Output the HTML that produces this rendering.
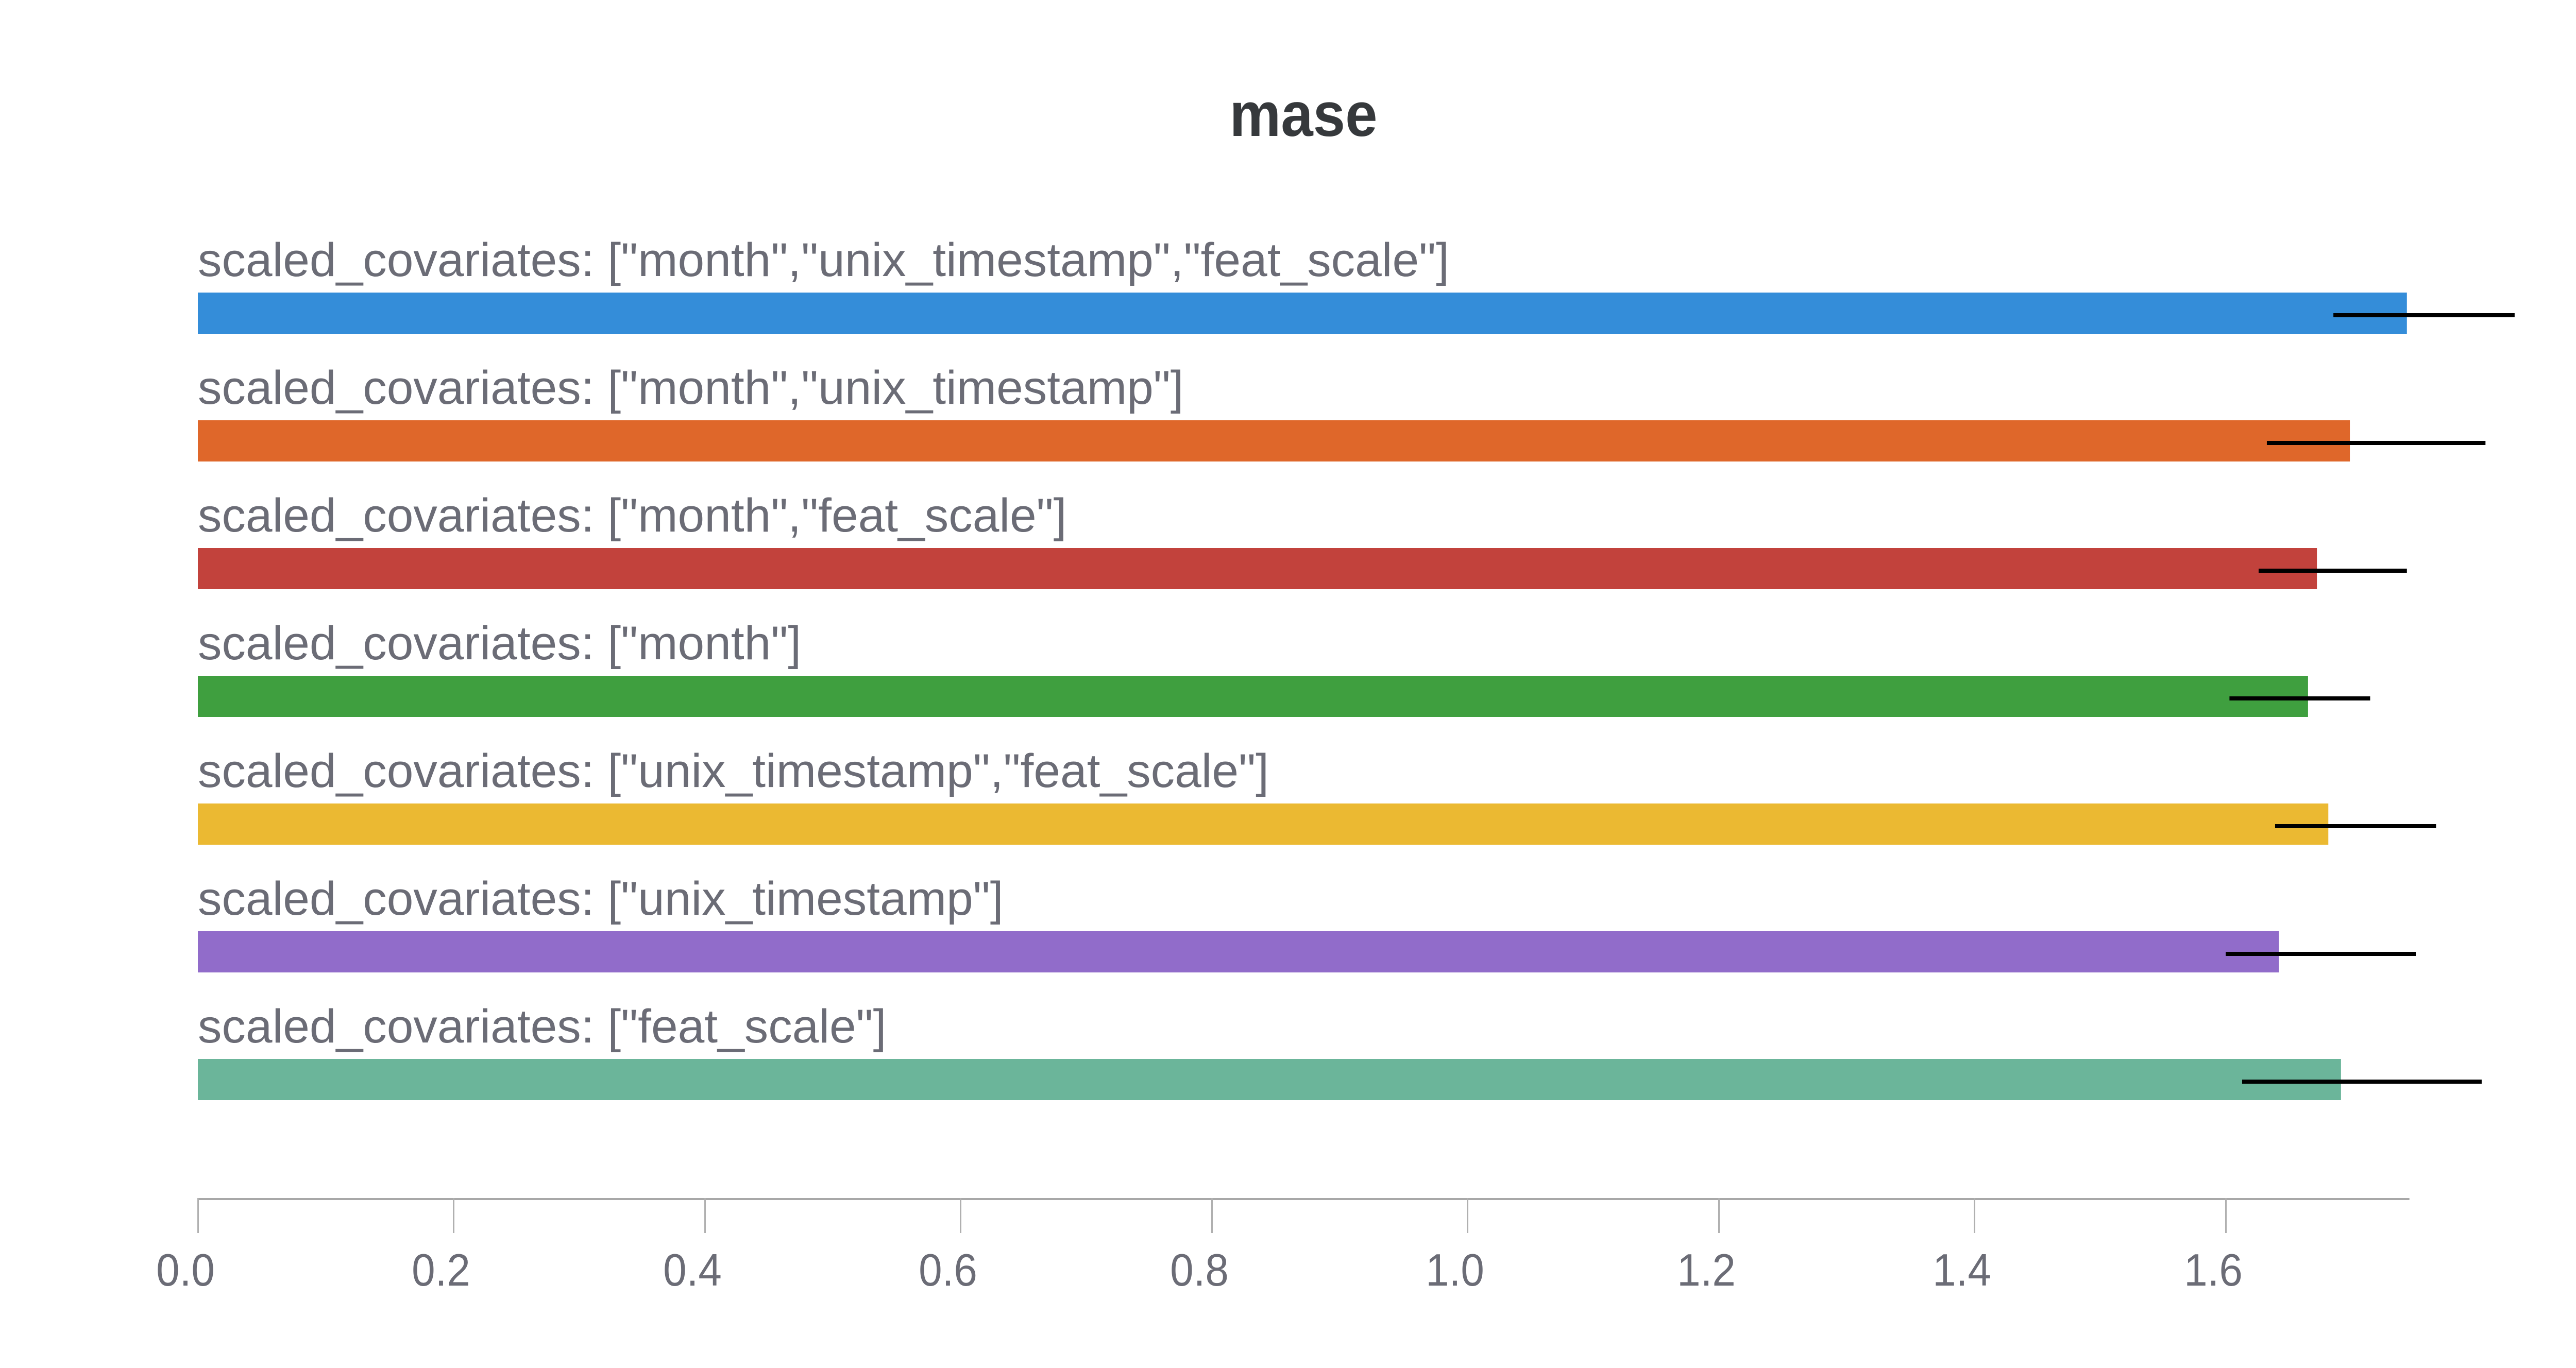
<!DOCTYPE html>
<html lang="en">
<head>
<meta charset="utf-8">
<title>mase</title>
<style>
  html, body { margin: 0; padding: 0; background: #ffffff; }
  body { width: 5056px; height: 2656px; overflow: hidden; }
  svg { display: block; font-family: "Liberation Sans", sans-serif; }
</style>
</head>
<body>
<svg id="chart" xmlns="http://www.w3.org/2000/svg" width="5056" height="2656" viewBox="0 0 5056 2656">
  <rect x="0" y="0" width="5056" height="2656" fill="#ffffff"></rect>
  <text transform="translate(2530,264) scale(0.92,1)" text-anchor="middle" font-size="122" font-weight="700" fill="#36393c">mase</text>
</svg>
<script>
const categories = [
  'scaled_covariates: ["month","unix_timestamp","feat_scale"]',
  'scaled_covariates: ["month","unix_timestamp"]',
  'scaled_covariates: ["month","feat_scale"]',
  'scaled_covariates: ["month"]',
  'scaled_covariates: ["unix_timestamp","feat_scale"]',
  'scaled_covariates: ["unix_timestamp"]',
  'scaled_covariates: ["feat_scale"]'
];
const seriesValues = [1.743, 1.698, 1.672, 1.665, 1.681, 1.642, 1.691];
const errorLow = [1.685, 1.6325, 1.626, 1.603, 1.639, 1.600, 1.613];
const errorHigh = [1.828, 1.805, 1.743, 1.714, 1.766, 1.750, 1.802];
const barColors = ['#348dd9', '#df672a', '#c2423c', '#3f9f3f', '#ebb932', '#916cca', '#6bb59a'];
const tickValues = [0, 0.2, 0.4, 0.6, 0.8, 1.0, 1.2, 1.4, 1.6];
const tickLabels = ['0.0', '0.2', '0.4', '0.6', '0.8', '1.0', '1.2', '1.4', '1.6'];
const domainMax = 1.745;

const svg = document.getElementById('chart');
const NS = 'http://www.w3.org/2000/svg';

function xScale(v) { return 384 + 2460 * v; }
function yScale(i) { return 568 + 248 * i; }
function snap(p) { return Math.round(p / 8) * 8; }

function make(tag, attrs, text) {
  const el = document.createElementNS(NS, tag);
  for (const k in attrs) el.setAttribute(k, attrs[k]);
  if (text !== undefined) el.textContent = text;
  svg.appendChild(el);
  return el;
}

const BAR_H = 80;
const labelScale = 1.01;

categories.forEach(function (name, i) {
  const top = yScale(i);

  const label = make('text', {
    transform: 'translate(384,' + (top - 32) + ') scale(' + labelScale + ',1)',
    'font-size': 92,
    fill: '#6b6c76'
  }, name);
  
  

  const bar = make('rect', {
    x: xScale(0),
    y: top,
    width: xScale(seriesValues[i]) - xScale(0),
    height: BAR_H,
    fill: barColors[i]
  });
  
  
});

categories.forEach(function (name, i) {
  const top = yScale(i);
  const err = make('rect', {
    x: xScale(errorLow[i]),
    y: top + 40,
    width: xScale(errorHigh[i]) - xScale(errorLow[i]),
    height: 8,
    fill: '#000000'
  });
  
  
});

const axisLine = make('rect', {
  x: xScale(0),
  y: 2326,
  width: xScale(domainMax) - xScale(0),
  height: 4,
  fill: '#a8a8a8'
});



tickValues.forEach(function (v, i) {
  const px = snap(xScale(v));

  const tick = make('rect', {
    x: px - 1,
    y: 2326,
    width: 3,
    height: 68,
    fill: '#b0b0b0'
  });
  
  

  const tl = make('text', {
    transform: 'translate(' + (px - 24) + ',2496) scale(0.93,1)',
    'text-anchor': 'middle',
    'font-size': 88,
    fill: '#6b6c76'
  }, tickLabels[i]);
  
  
});
</script>
</body>
</html>
